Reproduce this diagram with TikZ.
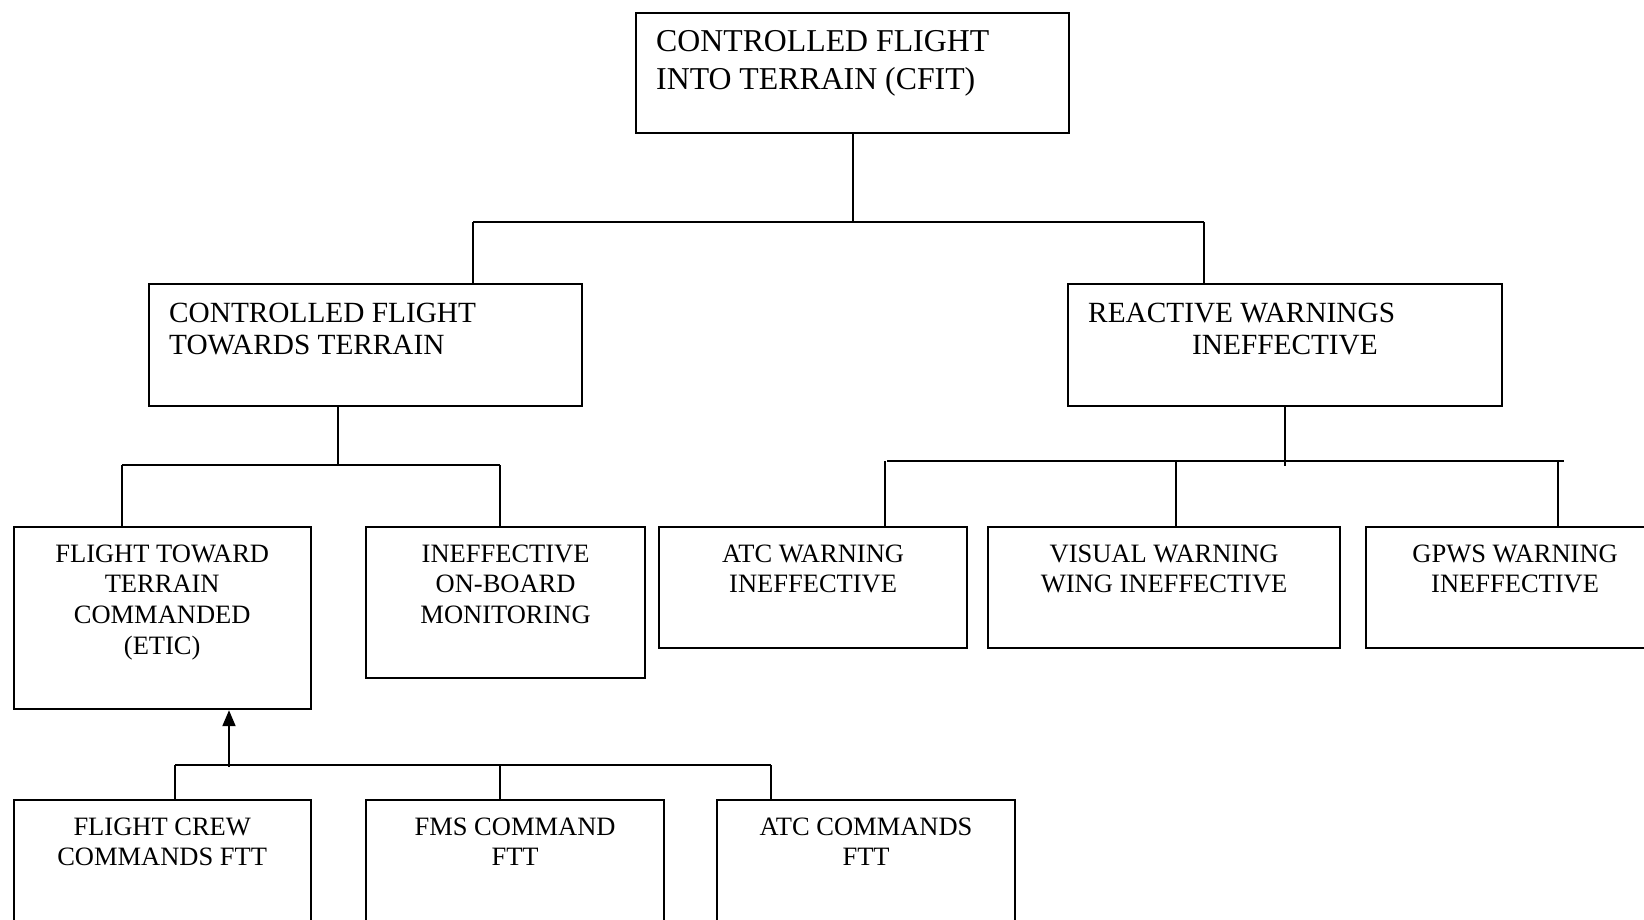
\documentclass[tikz,border=0pt]{standalone}
\usepackage{fontspec}
\setmainfont{Liberation Serif}
\usetikzlibrary{arrows.meta}
% stacked lines whose baseline is that of the first line
\newcommand\boxlines[2]{\begin{tabular}[t]{@{}#1@{}}#2\end{tabular}}

\begin{document}
\begin{tikzpicture}[x=1pt,y=-1pt,
  box/.style={draw, line width=2.2pt, inner sep=0pt, anchor=north west},
  bigtxt/.style={inner sep=0pt, anchor=base west, font=\fontsize{31.8}{38}\selectfont},
  midtxt/.style={inner sep=0pt, anchor=base west, font=\fontsize{29.3}{32}\selectfont},
  smalltxt/.style={inner sep=0pt, anchor=base, font=\fontsize{26.5}{30.7}\selectfont},
  link/.style={line width=2pt},
  bar/.style={line width=2.8pt}
]
\useasboundingbox (0,0) rectangle (1644,919);
\clip (0,0) rectangle (1644,919);

% boxes
\node[box, minimum width=433pt, minimum height=120.5pt] (cfit) at (635,11.5) {};
\node[box, minimum width=433pt, minimum height=122pt] (cftt) at (148,283) {};
\node[box, minimum width=434pt, minimum height=122pt] (rwi) at (1067,283) {};
\node[box, minimum width=297pt, minimum height=182pt] (fttc) at (12.6,526) {};
\node[box, minimum width=279pt, minimum height=151pt] (iobm) at (365,526) {};
\node[box, minimum width=308pt, minimum height=121pt] (atcw) at (658,526) {};
\node[box, minimum width=352pt, minimum height=121pt] (visw) at (987,526) {};
\node[box, minimum width=298pt, minimum height=121pt] (gpws) at (1365,526) {};
\node[box, minimum width=297pt, minimum height=200pt] (fcc) at (12.6,799) {};
\node[box, minimum width=298pt, minimum height=200pt] (fms) at (365,799) {};
\node[box, minimum width=298pt, minimum height=200pt] (atcc) at (716,799) {};

% texts
\node[bigtxt] (cfitT) at (656,51) {\boxlines{l}{CONTROLLED FLIGHT\\INTO TERRAIN (CFIT)}};
\node[midtxt] (cfttT) at (169,322) {\boxlines{l}{CONTROLLED FLIGHT\\TOWARDS TERRAIN}};
\node[midtxt] (rwiT) at (1088,322) {\boxlines{l}{REACTIVE WARNINGS\\\hspace{104pt}INEFFECTIVE}};
\node[smalltxt] (fttcT) at (fttc.north |- 0,562) {\boxlines{c}{FLIGHT TOWARD\\TERRAIN\\COMMANDED\\(ETIC)}};
\node[smalltxt] (iobmT) at (iobm.north |- 0,562) {\boxlines{c}{INEFFECTIVE\\ON-BOARD\\MONITORING}};
\node[smalltxt] (atcwT) at (atcw.north |- 0,562) {\boxlines{c}{ATC WARNING\\INEFFECTIVE}};
\node[smalltxt] (viswT) at (visw.north |- 0,562) {\boxlines{c}{VISUAL WARNING\\WING INEFFECTIVE}};
\node[smalltxt] (gpwsT) at (gpws.north |- 0,562) {\boxlines{c}{GPWS WARNING\\INEFFECTIVE}};
\node[smalltxt] (fccT) at (fcc.north |- 0,835) {\boxlines{c}{FLIGHT CREW\\COMMANDS FTT}};
\node[smalltxt] (fmsT) at (fms.north |- 0,835) {\boxlines{c}{FMS COMMAND\\FTT}};
\node[smalltxt] (atccT) at (atcc.north |- 0,835) {\boxlines{c}{ATC COMMANDS\\FTT}};

% junction points
\coordinate (ja) at (473,222);
\coordinate (jb) at (1204,222);
\coordinate (jc) at (338,465);
\coordinate (jd) at (122,465);
\coordinate (je) at (500,465);
\coordinate (jf) at (887,461);
\coordinate (jg) at (1564,461);
\coordinate (jh) at (175,765);
\coordinate (ji) at (771,765);
\coordinate (jj) at (500,765);
\coordinate (jk) at (229,767);

% top level
\draw[link] (cfit.south) -- (cfit.south |- ja);
\draw[link] (ja) -- (jb);
\draw[link] (ja) -- (ja |- cftt.north);
\draw[link] (jb) -- (jb |- rwi.north);

% left branch
\draw[link] (jc |- cftt.south) -- (jc);
\draw[link] (jd) -- (je);
\draw[link] (jd) -- (jd |- fttc.north);
\draw[link] (je) -- (je |- iobm.north);

% right branch
\draw[link] (rwi.south) -- ([yshift=-5pt]rwi.south |- jf);
\draw[bar] (jf) -- (jg);
\draw[link] (885,461) -- (885,0 |- atcw.north);
\draw[link] (1176,461) -- (1176,0 |- visw.north);
\draw[link] (1558,461) -- (1558,0 |- gpws.north);

% bottom row feeding the ETIC box
\draw[bar] (jh) -- (ji);
\draw[link] (jh) -- (jh |- fcc.north);
\draw[link] (jj) -- (jj |- fms.north);
\draw[link] (ji) -- (ji |- atcc.north);
\draw[link, -{Triangle[length=16pt, width=13pt]}] (jk) -- (jk |- fttc.south);
\end{tikzpicture}
\end{document}
